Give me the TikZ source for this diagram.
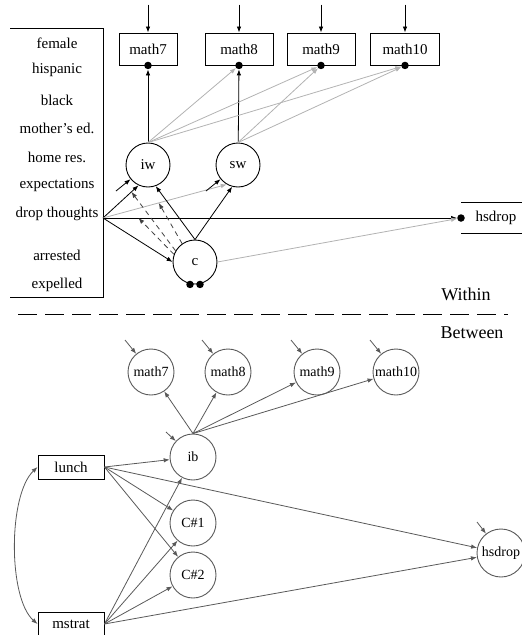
\documentclass[tikz,border=0pt]{standalone}
\usepackage{fontspec}
\setmainfont{Liberation Serif}
\usetikzlibrary{arrows.meta}
\tikzset{
  arr/.style={-{Latex[length=6pt,width=4.5pt]}, line width=0.8pt},
  garr/.style={arr, gray!60},
  larr/.style={arr, black!65},
  darr/.style={arr, black!75, dash pattern=on 5pt off 4pt},
  both/.style={{Latex[length=6pt,width=4.5pt]}-{Latex[length=6pt,width=4.5pt]}, line width=0.8pt, black!65},
  obs/.style={draw, line width=0.9pt, minimum height=32pt, inner sep=2pt},
  lat/.style={draw, circle, line width=0.9pt, minimum size=44pt, inner sep=0pt},
  blat/.style={lat, draw=black!65, minimum size=46pt, font=\fontsize{14}{16}\selectfont},
  dot/.style={fill, circle, inner sep=0pt, minimum size=7.5pt},
}
\begin{document}
\begin{tikzpicture}[x=1pt,y=-1pt,font=\fontsize{15}{17}\selectfont]
\useasboundingbox (0,0) rectangle (522,635);

% within level
\draw[line width=0.9pt] (10,28) -- (103,28) -- (103,297) -- (10,297);
\foreach \nm/\y/\txt in {fem/43/female, hisp/70/hispanic, blk/100/black, med/128/mother's ed., hres/157/home res., expt/185/expectations, drop/214/drop thoughts, arst/255/arrested, expl/285/expelled}
  \node (\nm) at (57,\y) {\txt};
\coordinate (dtx) at (103,218);

\foreach \n/\x/\w in {7/148/58pt, 8/239/68pt, 9/321/68pt, 10/405/69pt} {
  \node[obs, minimum width=\w] (m\n) at (\x,49) {math\n};
  \node[dot] (d\n) at (m\n.south) {};
  \coordinate (e\n) at ([yshift=28pt]m\n.north);
  \draw[arr] (e\n) -- (m\n);
}

\node[lat] (iw) at (148,165) {iw};
\node[lat] (sw) at (238,165) {sw};
\node[lat] (c) at (195,262) {c};
\node[dot] (c1) at ([xshift=-5pt]c.south) {};
\node[dot] (c2) at ([xshift=5pt]c.south) {};

\node (hsw) at (496,218) {hsdrop};
\draw[line width=0.9pt] (461,202) -- (522,202) (461,233) -- (522,233);
\node[dot] (hd) at (461,218) {};

\draw[arr] (iw) -- (d7);
\draw[arr] (sw) -- (d8);
\foreach \s/\t in {iw/d8, iw/d9, iw/d10, sw/d9, sw/d10}
  \draw[garr] (\s.north) -- (\t);

\draw[arr] (dtx) -- coordinate[pos=0.1] (p3) (hd);
\draw[arr] (dtx) -- coordinate[pos=0.8] (p1) (iw.245);
\draw[garr] (dtx) -- coordinate[pos=0.45] (p2) (sw.240);
\draw[arr] (dtx) -- (c.west);
\draw[arr] (c.north) -- (iw.290);
\draw[arr] (c.north) -- (sw.255);
\draw[garr] (c.east) -- (hd);
\foreach \a/\p in {150/p1, 125/p2, 160/p3}
  \draw[darr] (c.\a) -- (\p);

\coordinate (riw) at (116,191);
\coordinate (rsw) at (206,191);
\draw[arr] (riw) -- (iw);
\draw[arr] (rsw) -- (sw);

% divider
\node[font=\fontsize{18}{20}\selectfont] (within) at (466,294) {Within};
\draw[line width=0.9pt, dash pattern=on 19pt off 8pt] (18,314) -- (508,314);
\node[font=\fontsize{18}{20}\selectfont] (between) at (472,333) {Between};

% between level
\foreach \n/\x in {7/151, 8/228, 9/317, 10/396} {
  \node[blat] (b\n) at (\x,372) {math\n};
  \coordinate (rb\n) at ([shift={(-26pt,32pt)}]b\n.center);
  \draw[larr] (rb\n) -- (b\n);
}
\node[blat] (ib) at (193,457) {ib};
\node[blat] (cb1) at (193,523) {C\#1};
\node[blat] (cb2) at (193,575) {C\#2};
\node[blat, minimum size=48pt] (hsb) at (501,553) {hsdrop};
\node[obs, minimum width=66pt, minimum height=24pt] (lunch) at (71,467) {lunch};
\node[obs, minimum width=66pt, minimum height=24pt] (mstrat) at (71,624) {mstrat};

\foreach \t in {b7, b8, b9, b10}
  \draw[larr] (ib.north) -- (\t);
\foreach \s in {lunch, mstrat}
  \foreach \t in {ib, cb1, cb2, hsb}
    \draw[larr] (\s.east) -- (\t);
\draw[both] (lunch.west) .. controls (8,495) and (8,598) .. (mstrat.west);

\coordinate (rib) at (166,432);
\coordinate (rhs) at (477,522);
\draw[larr] (rib) -- (ib);
\draw[larr] (rhs) -- (hsb);
\end{tikzpicture}
\end{document}
